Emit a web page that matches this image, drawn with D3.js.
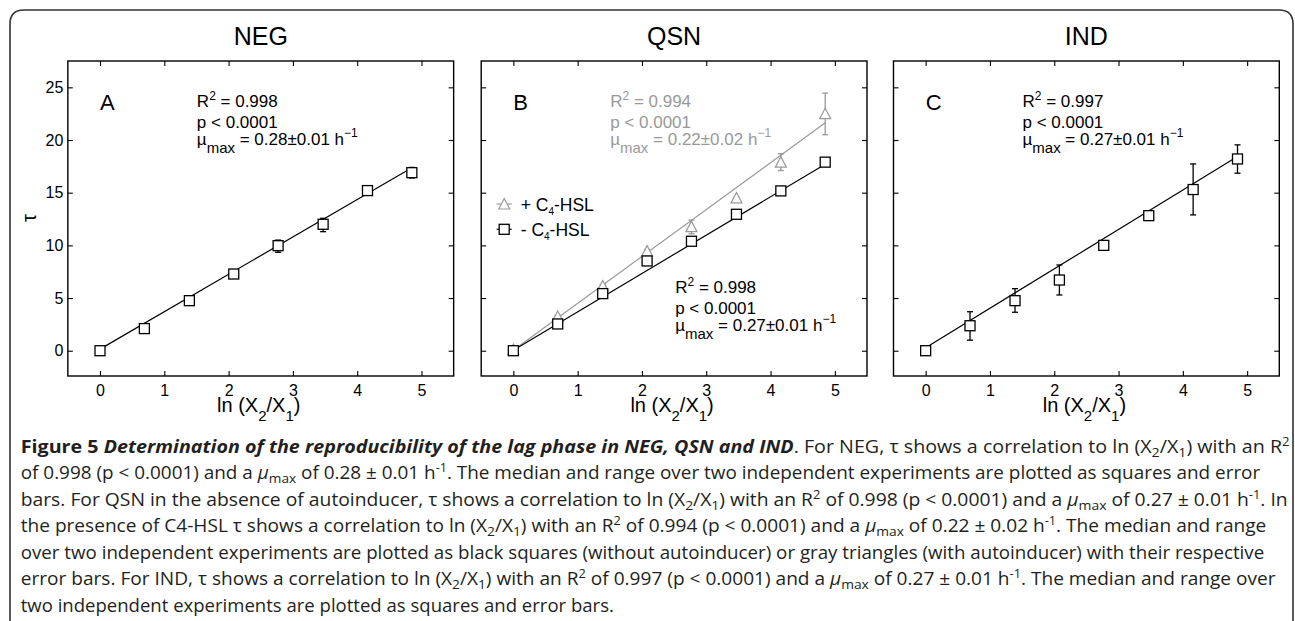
<!DOCTYPE html>
<html>
<head>
<meta charset="utf-8">
<script src="https://cdn.jsdelivr.net/npm/d3@7"></script>
<style>
body { margin: 0; background: #fff; }
svg { display: block; }
</style>
</head>
<body>
<div id="wrap"></div>
<script>
// values
var xVals = [0, 0.69, 1.39, 2.08, 2.77, 3.47, 4.16, 4.85];
var xTicks = [0, 1, 2, 3, 4, 5];
var yTicks = [0, 5, 10, 15, 20, 25];
var xDomain = [-0.5, 5.5];
var yDomain = [-2.4, 27.5];

var negTau = [0, 2.1, 4.75, 7.28, 9.97, 12.0, 15.2, 16.9];
var negLo  = [0, 2.0, 4.65, 7.2, 9.34, 11.3, 15.1, 16.4];
var negHi  = [0, 2.2, 4.85, 7.35, 10.5, 12.57, 15.3, 17.4];
var negFit = [0.15, 3.55];   // intercept, slope

var qsnMinus   = [0, 2.54, 5.42, 8.52, 10.39, 12.95, 15.17, 17.9];
var qsnMinusLo = [0, 2.45, 5.3, 8.4, 10.3, 12.85, 15.1, 17.8];
var qsnMinusHi = [0, 2.6, 5.5, 8.6, 10.5, 13.05, 15.25, 18.0];
var qsnMinusFit = [0.05, 3.64];
var qsnPlus   = [0.1, 3.25, 6.15, 9.45, 11.78, 14.5, 17.9, 22.5];
var qsnPlusLo = [0, 3.15, 6.0, 9.3, 11.1, 14.4, 17.1, 20.5];
var qsnPlusHi = [0.2, 3.35, 6.3, 9.6, 12.4, 14.6, 18.7, 24.45];
var qsnPlusFit = [0.05, 4.45];

var indTau = [0, 2.37, 4.75, 6.71, 10.0, 12.82, 15.3, 18.2];
var indLo  = [0, 1.0, 3.65, 5.29, 9.9, 12.7, 12.89, 16.85];
var indHi  = [0, 3.7, 5.89, 8.14, 10.1, 12.95, 17.73, 19.54];
var indFit = [0.29, 3.74];

var titles = ["NEG", "QSN", "IND"];
var letters = ["A", "B", "C"];
var negStats = ["0.998", "0.0001", "0.28\u00b10.01"];
var qsnPlusStats = ["0.994", "0.0001", "0.22\u00b10.02"];
var qsnMinusStats = ["0.998", "0.0001", "0.27\u00b10.01"];
var indStats = ["0.997", "0.0001", "0.27\u00b10.01"];
var legendLabels = ["+ C", "- C"];

var w = 1295, h = 621;
var plotTop = 61, plotBottom = 376, pw = 385.8;
var lefts = [67.85, 481.2, 893.5];
var gray = "#999";
var plotFont = "'Liberation Sans', Arial, Helvetica, sans-serif";

var svg = d3.select("#wrap").append("svg").attr("width", w).attr("height", h);

// outer rounded frame (runs off the bottom)
var r = 14;
svg.append("path")
  .attr("d", "M10," + (h + 10) + " V" + (10 + r) + " Q10,10 " + (10 + r) + ",10 H" + (1293 - r) +
    " Q1293,10 1293," + (10 + r) + " V" + (h + 10))
  .attr("fill", "none").attr("stroke", "#333").attr("stroke-width", 1.6);

function rich(parent, x, y, parts, o) {
  var t = parent.append("text").attr("x", x).attr("y", y)
    .attr("font-size", o.size).attr("fill", o.color || "#000")
    .attr("font-family", o.font || plotFont);
  if (o.anchor) t.attr("text-anchor", o.anchor);
  var shift = 0;
  parts.forEach(function(p) {
    var kind = p[1] || "";
    var target = kind == "sub" ? o.subDy : (kind == "sup" ? -o.supDy : 0);
    var ts = t.append("tspan").text(p[0]).attr("dy", target - shift);
    if (kind == "sub") ts.attr("font-size", o.subSize);
    if (kind == "sup") ts.attr("font-size", o.supSize);
    if (kind == "b" || kind == "bi") ts.attr("font-weight", "bold");
    if (kind == "i" || kind == "bi") ts.attr("font-style", "italic");
    shift = target;
  });
  return t;
}

var statOpt = {size: 17, subSize: 15, subDy: 8, supSize: 12, supDy: 7.5};

function stats(g, x, y, vals, color) {
  var o = Object.assign({color: color}, statOpt);
  rich(g, x, y, [["R"], ["2", "sup"], [" = " + vals[0]]], o);
  rich(g, x, y + 20.5, [["p < " + vals[1]]], o);
  rich(g, x, y + 37.5, [["\u00b5"], ["max", "sub"], [" = " + vals[2] + " h"], ["\u22121", "sup"]], o);
}

function squares(g, x, y, vals, color) {
  g.selectAll(null).data(vals).enter().append("rect")
    .attr("x", function(d, i) { return x(xVals[i]) - 5; })
    .attr("y", function(d) { return y(d) - 5; })
    .attr("width", 10).attr("height", 10)
    .attr("fill", "#fff").attr("stroke", color).attr("stroke-width", 1.3);
}

function triPath(cx, cy) {
  return "M" + (cx - 5.5) + "," + (cy + 5) + " L" + (cx + 5.5) + "," + (cy + 5) + " L" + cx + "," + (cy - 5.5) + " Z";
}

function triangles(g, x, y, vals, color) {
  g.selectAll(null).data(vals).enter().append("path")
    .attr("d", function(d, i) { return triPath(x(xVals[i]), y(d)); })
    .attr("fill", "#fff").attr("stroke", color).attr("stroke-width", 1.2);
}

function errorBars(g, x, y, lo, hi, color) {
  var eg = g.append("g").attr("stroke", color).attr("stroke-width", 1.3);
  lo.forEach(function(l, i) {
    var cx = x(xVals[i]);
    eg.append("line").attr("x1", cx).attr("x2", cx).attr("y1", y(l)).attr("y2", y(hi[i]));
    eg.append("line").attr("x1", cx - 3).attr("x2", cx + 3).attr("y1", y(l)).attr("y2", y(l));
    eg.append("line").attr("x1", cx - 3).attr("x2", cx + 3).attr("y1", y(hi[i])).attr("y2", y(hi[i]));
  });
}

function fitLine(g, x, y, fit, color) {
  var x1 = xVals[xVals.length - 1];
  g.append("line")
    .attr("x1", x(0)).attr("y1", y(fit[0]))
    .attr("x2", x(x1)).attr("y2", y(fit[0] + fit[1] * x1))
    .attr("stroke", color).attr("stroke-width", 1.2);
}

function panel(k) {
  var left = lefts[k];
  var g = svg.append("g");
  var x = d3.scaleLinear().domain(xDomain).range([left, left + pw]);
  var y = d3.scaleLinear().domain(yDomain).range([plotBottom, plotTop]);

  var ax = [
    g.append("g").attr("transform", "translate(0," + plotBottom + ")")
      .call(d3.axisBottom(x).tickValues(xTicks).tickSizeInner(-5).tickSizeOuter(0).tickPadding(9)
        .tickFormat(d3.format("d"))),
    g.append("g").attr("transform", "translate(0," + plotTop + ")")
      .call(d3.axisTop(x).tickValues(xTicks).tickSizeInner(-5).tickSizeOuter(0).tickFormat("")),
    g.append("g").attr("transform", "translate(" + left + ",0)")
      .call(d3.axisLeft(y).tickValues(yTicks).tickSizeInner(-5).tickSizeOuter(0).tickPadding(4.5)
        .tickFormat(k == 0 ? d3.format("d") : "")),
    g.append("g").attr("transform", "translate(" + (left + pw) + ",0)")
      .call(d3.axisRight(y).tickValues(yTicks).tickSizeInner(-5).tickSizeOuter(0).tickFormat(""))
  ];
  ax.forEach(function(a) {
    a.select(".domain").remove();
    a.attr("font-size", 16).attr("font-family", plotFont);
    a.selectAll("line").attr("stroke", "#000").attr("stroke-width", 1.1);
    a.selectAll("text").attr("fill", "#000");
  });

  g.append("rect").attr("x", left).attr("y", plotTop).attr("width", pw).attr("height", plotBottom - plotTop)
    .attr("fill", "none").attr("stroke", "#000").attr("stroke-width", 1.4);

  g.append("text").attr("x", left + pw / 2).attr("y", 45).attr("text-anchor", "middle")
    .attr("font-size", 25).attr("font-family", plotFont).text(titles[k]);
  g.append("text").attr("x", x(0)).attr("y", 110)
    .attr("font-size", 22).attr("font-family", plotFont).text(letters[k]);

  rich(g, left + pw / 2 - 2, 411.7, [["ln (X"], ["2", "sub"], ["/X"], ["1", "sub"], [")"]],
    {size: 20, subSize: 15, subDy: 9, supSize: 12, supDy: 7, anchor: "middle"});

  return {g: g, x: x, y: y, left: left};
}

// A: NEG
var pA = panel(0);
fitLine(pA.g, pA.x, pA.y, negFit, "#000");
errorBars(pA.g, pA.x, pA.y, negLo, negHi, "#000");
squares(pA.g, pA.x, pA.y, negTau, "#000");
stats(pA.g, pA.left + 129, 107.3, negStats, "#000");
pA.g.append("text").attr("transform", "translate(36,218) rotate(-90)").attr("text-anchor", "middle")
  .attr("font-size", 20).attr("font-family", plotFont).text("\u03c4");

// B: QSN
var pB = panel(1);
fitLine(pB.g, pB.x, pB.y, qsnPlusFit, gray);
fitLine(pB.g, pB.x, pB.y, qsnMinusFit, "#000");
errorBars(pB.g, pB.x, pB.y, qsnPlusLo, qsnPlusHi, gray);
errorBars(pB.g, pB.x, pB.y, qsnMinusLo, qsnMinusHi, "#000");
triangles(pB.g, pB.x, pB.y, qsnPlus, gray);
squares(pB.g, pB.x, pB.y, qsnMinus, "#000");
stats(pB.g, pB.left + 129, 107.3, qsnPlusStats, gray);
stats(pB.g, pB.left + 194, 293, qsnMinusStats, "#000");

// legend
var lx = pB.left + 23;
pB.g.append("line").attr("x1", lx - 7.5).attr("x2", lx + 7.5).attr("y1", 204).attr("y2", 204)
  .attr("stroke", gray).attr("stroke-width", 1.2);
pB.g.append("path").attr("d", triPath(lx, 204)).attr("fill", "#fff").attr("stroke", gray).attr("stroke-width", 1.2);
pB.g.append("line").attr("x1", lx - 7.5).attr("x2", lx + 7.5).attr("y1", 229.3).attr("y2", 229.3)
  .attr("stroke", "#000").attr("stroke-width", 1.2);
pB.g.append("rect").attr("x", lx - 5).attr("y", 224.3).attr("width", 10).attr("height", 10)
  .attr("fill", "#fff").attr("stroke", "#000").attr("stroke-width", 1.3);
var legOpt = {size: 17.5, subSize: 10, subDy: 4, supSize: 10, supDy: 6};
legendLabels.forEach(function(lab, i) {
  rich(pB.g, lx + 16.5, 210.5 + i * 25, [[lab], ["4", "sub"], ["-HSL"]], legOpt);
});

// C: IND
var pC = panel(2);
fitLine(pC.g, pC.x, pC.y, indFit, "#000");
errorBars(pC.g, pC.x, pC.y, indLo, indHi, "#000");
squares(pC.g, pC.x, pC.y, indTau, "#000");
stats(pC.g, pC.left + 129, 107.3, indStats, "#000");

// caption
var tau = "\u03c4", mu = "\u03bc", pm = "\u00b1";
var capLines = [
  [["Figure 5 ", "b"], ["Determination of the reproducibility of the lag phase in NEG, QSN and IND", "bi"],
   [". For NEG, " + tau + " shows a correlation to ln (X"], ["2", "sub"], ["/X"], ["1", "sub"], [") with an R"], ["2", "sup"]],
  [["of 0.998 (p < 0.0001) and a "], [mu, "i"], ["max", "sub"], [" of 0.28 " + pm + " 0.01 h"], ["-1", "sup"],
   [". The median and range over two independent experiments are plotted as squares and error"]],
  [["bars. For QSN in the absence of autoinducer, " + tau + " shows a correlation to ln (X"], ["2", "sub"], ["/X"], ["1", "sub"],
   [") with an R"], ["2", "sup"], [" of 0.998 (p < 0.0001) and a "], [mu, "i"], ["max", "sub"], [" of 0.27 " + pm + " 0.01 h"], ["-1", "sup"], [". In"]],
  [["the presence of C4-HSL " + tau + " shows a correlation to ln (X"], ["2", "sub"], ["/X"], ["1", "sub"],
   [") with an R"], ["2", "sup"], [" of 0.994 (p < 0.0001) and a "], [mu, "i"], ["max", "sub"], [" of 0.22 " + pm + " 0.02 h"], ["-1", "sup"],
   [". The median and range"]],
  [["over two independent experiments are plotted as black squares (without autoinducer) or gray triangles (with autoinducer) with their respective"]],
  [["error bars. For IND, " + tau + " shows a correlation to ln (X"], ["2", "sub"], ["/X"], ["1", "sub"],
   [") with an R"], ["2", "sup"], [" of 0.997 (p < 0.0001) and a "], [mu, "i"], ["max", "sub"], [" of 0.27 " + pm + " 0.01 h"], ["-1", "sup"],
   [". The median and range over"]],
  [["two independent experiments are plotted as squares and error bars."]]
];
var capEnds = [1290, 1261.7, 1288, 1267, 1265, 1276.7, 614.3];
var capX = 20.7;
var capOpt = {size: 18, subSize: 13, subDy: 4, supSize: 12, supDy: 7, color: "#231f20",
  font: "'Open Sans', 'Noto Sans', sans-serif"};
capLines.forEach(function(parts, i) {
  var t = rich(svg, 0, 0, parts, capOpt);
  var bw = t.node().getBBox().width;
  var sx = (capEnds[i] - capX) / bw;
  t.attr("transform", "translate(" + capX + "," + (452.7 + i * 26.5) + ") scale(" + sx + ",1)");
});
</script>
</body>
</html>
